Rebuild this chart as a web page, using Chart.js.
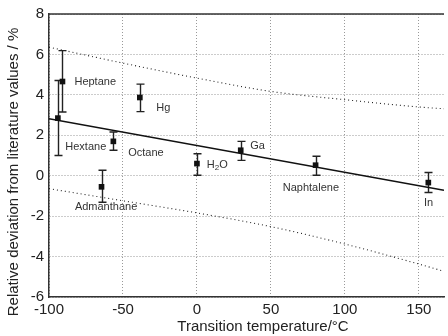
<!DOCTYPE html>
<html>
<head>
<meta charset="utf-8">
<script src="https://cdn.jsdelivr.net/npm/chart.js@4.4.1/dist/chart.umd.min.js"></script>
<style>
  html, body { margin: 0; padding: 0; background: #fff; }
</style>
</head>
<body>
<canvas id="chart" width="448" height="336"></canvas>
<script>
// measured substances
var names = ["Hextane", "Heptane", "Admanthane", "Octane", "Hg", "H2O", "Ga", "Naphtalene", "In"];
var temps = [-94, -90.9, -64.5, -56.5, -38.6, 0, 29.6, 80.2, 156.4];
var deviations = [2.85, 4.66, -0.55, 1.7, 3.87, 0.6, 1.26, 0.52, -0.34];
var errLow = [1.0, 3.15, -1.31, 1.26, 3.17, 0.02, 0.76, 0.02, -0.83];
var errHigh = [4.71, 6.19, 0.27, 2.16, 4.53, 1.09, 1.7, 0.96, 0.16];

// where each name sits (data units)
var labelX = [-89, -82.8, -82.5, -46.5, -27.5, 6.7, 36, 58, 153.5];
var labelY = [1.44, 4.63, -1.57, 1.14, 3.37, 0.55, 1.45, -0.6, -1.37];

// regression line and dotted band
var fitX = [-100, 167];
var fitY = [2.82, -0.72];
var bandX = [-100, -50, 0, 50, 100, 150, 167];
var bandUpper = [6.36, 5.57, 4.83, 4.17, 3.76, 3.4, 3.31];
var bandLower = [-0.64, -1.24, -1.84, -2.52, -3.38, -4.37, -4.73];

var xTicks = [-100, -50, 0, 50, 100, 150];
var yTicks = [-6, -4, -2, 0, 2, 4, 6, 8];

function toPoints(xs, ys) {
    var pts = [];
    for (var i = 0; i < xs.length; i++) {
        pts.push({ x: xs[i], y: ys[i] });
    }
    return pts;
}

const FONT = "'Liberation Sans', Arial, sans-serif";

const extras = {
    id: 'extras',
    beforeDatasetsDraw(chart) {
        const ctx = chart.ctx;
        const xs = chart.scales.x, ys = chart.scales.y;
        ctx.save();
        ctx.strokeStyle = '#222';
        ctx.lineWidth = 1.4;
        for (var i = 0; i < temps.length; i++) {
            const px = Math.round(xs.getPixelForValue(temps[i])) + 0.5;
            const top = ys.getPixelForValue(errHigh[i]);
            const bot = ys.getPixelForValue(errLow[i]);
            ctx.beginPath();
            ctx.moveTo(px, top); ctx.lineTo(px, bot);
            ctx.moveTo(px - 4, top); ctx.lineTo(px + 4, top);
            ctx.moveTo(px - 4, bot); ctx.lineTo(px + 4, bot);
            ctx.stroke();
        }
        ctx.restore();
    },
    afterDraw(chart) {
        const ctx = chart.ctx;
        const area = chart.chartArea;
        const xs = chart.scales.x, ys = chart.scales.y;
        ctx.save();

        // top frame line
        ctx.strokeStyle = '#333';
        ctx.lineWidth = 1.5;
        ctx.beginPath();
        ctx.moveTo(area.left, area.top);
        ctx.lineTo(area.right, area.top);
        ctx.stroke();

        // substance names
        ctx.fillStyle = '#333';
        ctx.textBaseline = 'middle';
        ctx.textAlign = 'left';
        for (var i = 0; i < names.length; i++) {
            var lx = xs.getPixelForValue(labelX[i]);
            var ly = ys.getPixelForValue(labelY[i]);
            if (names[i] == "H2O") {
                ctx.font = '11px ' + FONT;
                ctx.fillText("H", lx, ly);
                var w = ctx.measureText("H").width;
                ctx.font = '8px ' + FONT;
                ctx.fillText("2", lx + w, ly + 3);
                var w2 = ctx.measureText("2").width;
                ctx.font = '11px ' + FONT;
                ctx.fillText("O", lx + w + w2, ly);
            } else {
                ctx.font = '11px ' + FONT;
                ctx.fillText(names[i], lx, ly);
            }
        }

        // axis titles
        ctx.fillStyle = '#222';
        ctx.font = '15px ' + FONT;
        ctx.textAlign = 'center';
        ctx.fillText("Transition temperature/°C", 263, 327);
        ctx.translate(14, 172);
        ctx.rotate(-Math.PI / 2);
        ctx.fillText("Relative deviation from literature values / %", 0, 0);
        ctx.restore();
    }
};

const ctx = document.getElementById("chart").getContext("2d");

var config = {
    type: 'scatter',
    data: {
        datasets: [{
            data: toPoints(temps, deviations),
            pointStyle: 'rect',
            pointRadius: 4,
            backgroundColor: '#111',
            borderColor: '#111',
            borderWidth: 0,
            order: 0
        }, {
            data: toPoints(fitX, fitY),
            showLine: true,
            borderColor: '#111',
            borderWidth: 1.6,
            pointRadius: 0,
            order: 1
        }, {
            data: toPoints(bandX, bandUpper),
            showLine: true,
            borderColor: '#222',
            borderWidth: 1.1,
            borderDash: [1, 3],
            cubicInterpolationMode: 'monotone',
            pointRadius: 0,
            order: 2
        }, {
            data: toPoints(bandX, bandLower),
            showLine: true,
            borderColor: '#222',
            borderWidth: 1.1,
            borderDash: [1, 3],
            cubicInterpolationMode: 'monotone',
            pointRadius: 0,
            order: 2
        }]
    },
    options: {
        responsive: false,
        animation: false,
        events: [],
        layout: { padding: { top: 14, right: 0, left: 0, bottom: 0 } },
        plugins: {
            legend: { display: false },
            tooltip: { enabled: false }
        },
        scales: {
            x: {
                type: 'linear',
                min: -100,
                max: 167,
                afterBuildTicks: s => { s.ticks = xTicks.map(v => ({ value: v })); },
                afterFit: s => { s.height = 39; },
                ticks: { color: '#222', font: { size: 15, family: FONT }, padding: 4, maxRotation: 0 },
                grid: { color: '#999', lineWidth: 1, drawTicks: false },
                border: { color: '#333', width: 1.5, dash: [1, 2] }
            },
            y: {
                type: 'linear',
                min: -6,
                max: 8,
                afterBuildTicks: s => { s.ticks = yTicks.map(v => ({ value: v })); },
                afterFit: s => { s.width = 49; },
                ticks: { color: '#222', font: { size: 15, family: FONT }, padding: 5 },
                grid: { color: '#999', lineWidth: 1, drawTicks: false },
                border: { color: '#333', width: 1.5, dash: [1, 2] }
            }
        }
    },
    plugins: [extras]
};

new Chart(ctx, config);
</script>
</body>
</html>
